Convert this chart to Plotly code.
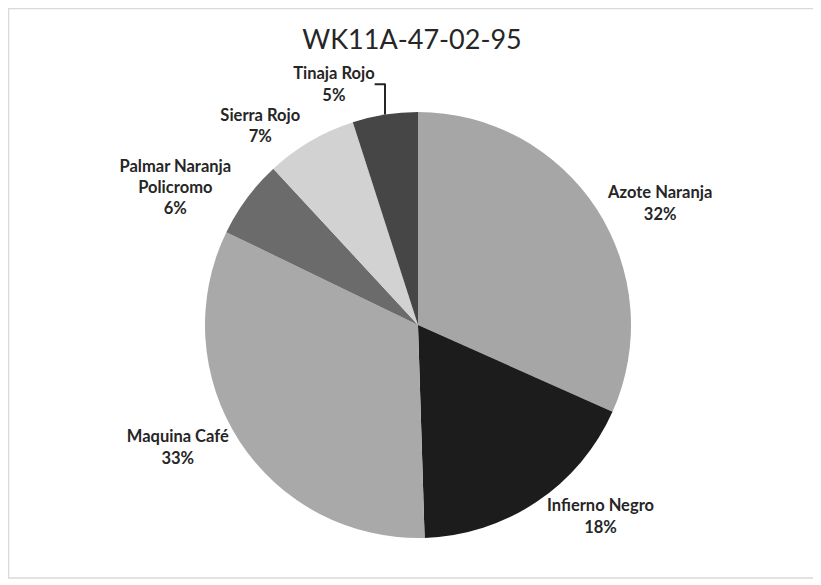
import plotly.graph_objects as go

# --- data ---
labels = ["Azote Naranja", "Infierno Negro", "Maquina Café",
          "Palmar Naranja Policromo", "Sierra Rojo", "Tinaja Rojo"]
label_text = ["Azote Naranja", "Infierno Negro", "Maquina Café",
              "Palmar Naranja<br>Policromo", "Sierra Rojo", "Tinaja Rojo"]
values = [32, 18, 33, 6, 7, 5]
colors = ["#a6a6a6", "#1c1c1c", "#a9a9a9", "#6b6b6b", "#d2d2d2", "#464646"]

# page body has an 8px margin, so the figure is a bit smaller than the window
W, H = 813, 577
L, R, T, B = 92, 85, 104, 47
dw, dh = W - L - R, H - T - B

fig = go.Figure(go.Pie(
    labels=labels,
    values=values,
    text=label_text,
    sort=False,
    direction="clockwise",
    rotation=0,
    marker=dict(colors=colors, line=dict(width=0)),
    textposition="outside",
    texttemplate="%{text}<br>%{percent:.0%}",
    textfont=dict(family="Lato", size=16.5, color="#262626", weight="bold"),
    showlegend=False,
))

fig.update_layout(
    title=dict(text="WK11A-47-02-95", x=404 / W, xref="container", xanchor="center",
               y=1 - 32 / H, yref="container", yanchor="middle",
               font=dict(family="Lato", size=27, color="#262626")),
    width=W, height=H,
    margin=dict(l=L, r=R, t=T, b=B, autoexpand=False),
    paper_bgcolor="white",
    plot_bgcolor="white",
    shapes=[dict(type="rect", xref="paper", yref="paper",
                 x0=(0.5 - L) / dw, x1=(809 - L) / dw,
                 y0=(H - B - 570) / dh, y1=(H - B - 0.5) / dh,
                 line=dict(color="#d9d9d9", width=1.5))],
)

fig.write_html("out.html")
